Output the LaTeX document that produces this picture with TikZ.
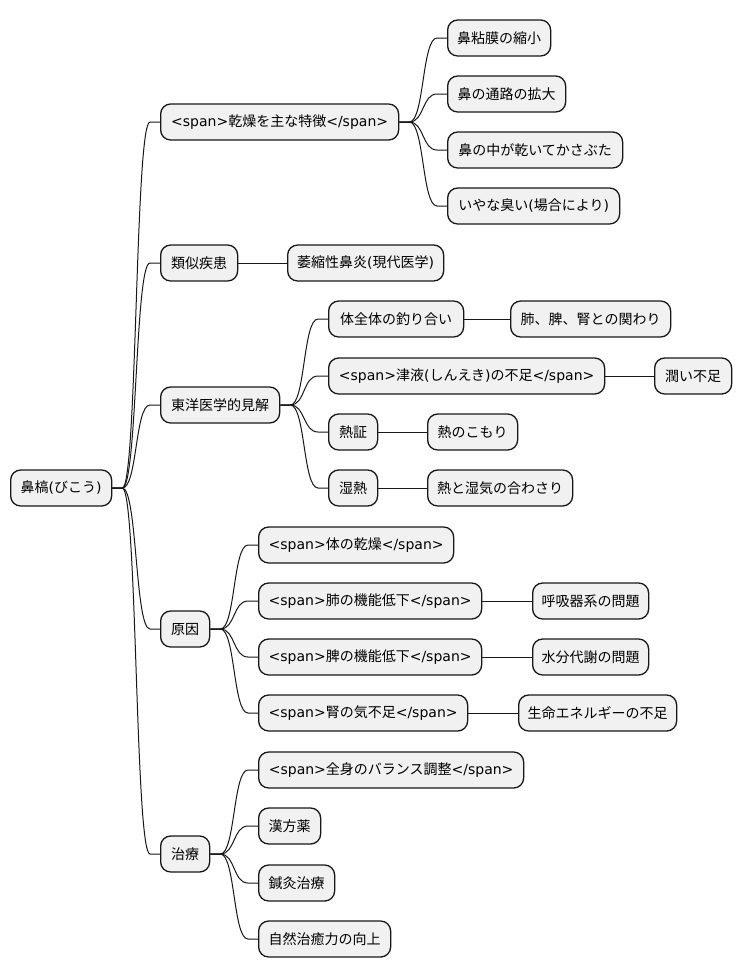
\documentclass[tikz,border=0pt]{standalone}
\usepackage{fontspec}
\setmainfont{DejaVu Sans}
\newfontfamily\jpfont{Noto Sans CJK JP}
\newcommand\J[1]{{\jpfont #1}}
\definecolor{boxfill}{HTML}{F1F1F1}
\definecolor{boxline}{HTML}{181818}
\tikzset{
  mmbox/.style={draw=boxline, fill=boxfill, line width=1.3pt, rounded corners=10pt,
    minimum height=36pt, inner sep=0pt, anchor=west, align=center,
    font=\fontsize{14pt}{16pt}\selectfont},
  conn/.style={draw=boxline, line width=1pt}
}
\newcommand\curvelink[2]{\draw[conn] (#1.east) -- ([xshift=10pt]#1.east) .. controls ([xshift=25pt]#1.east) and ([xshift=-25pt]#2.west) .. ([xshift=-10pt]#2.west) -- (#2.west);}
\newcommand\straightlink[2]{\draw[conn] (#1.east) -- (#2.west);}
\begin{document}
\begin{tikzpicture}[x=1pt,y=-1pt]
\useasboundingbox[fill=white] (0,0) rectangle (741,978);
% root
\node[mmbox, minimum width=101pt] (root) at (10,488) {\J{鼻槁}(\J{びこう})};
% level 1
\node[mmbox, minimum width=238pt] (a) at (160,122) {<span>\J{乾燥を主な特徴}</span>};
\node[mmbox, minimum width=77pt] (b) at (160,263) {\J{類似疾患}};
\node[mmbox, minimum width=119pt] (c) at (160,405) {\J{東洋医学的見解}};
\node[mmbox, minimum width=49pt] (d) at (160,629) {\J{原因}};
\node[mmbox, minimum width=49pt] (e) at (160,854) {\J{治療}};
% a children
\node[mmbox, minimum width=103pt] (a1) at (447,38) {\J{鼻粘膜の縮小}};
\node[mmbox, minimum width=118pt] (a2) at (447,94) {\J{鼻の通路の拡大}};
\node[mmbox, minimum width=175pt] (a3) at (447,150) {\J{鼻の中が乾いてかさぶた}};
\node[mmbox, minimum width=172pt] (a4) at (447,206) {\J{いやな臭い}(\J{場合により})};
% b child
\node[mmbox, minimum width=156pt] (b1) at (287,263) {\J{萎縮性鼻炎}(\J{現代医学})};
% c children
\node[mmbox, minimum width=135pt] (c1) at (328,319) {\J{体全体の釣り合い}};
\node[mmbox, minimum width=160pt] (c1a) at (510,319) {\J{肺、脾、腎との関わり}};
\node[mmbox, minimum width=276pt] (c2) at (328,376) {<span>\J{津液}(\J{しんえき})\J{の不足}</span>};
\node[mmbox, minimum width=77pt] (c2a) at (654,376) {\J{潤い不足}};
\node[mmbox, minimum width=49pt] (c3) at (328,432) {\J{熱証}};
\node[mmbox, minimum width=90pt] (c3a) at (427,432) {\J{熱のこもり}};
\node[mmbox, minimum width=49pt] (c4) at (328,488) {\J{湿熱}};
\node[mmbox, minimum width=145pt] (c4a) at (427,488) {\J{熱と湿気の合わさり}};
% d children
\node[mmbox, minimum width=195pt] (d1) at (258,545) {<span>\J{体の乾燥}</span>};
\node[mmbox, minimum width=223pt] (d2) at (258,601) {<span>\J{肺の機能低下}</span>};
\node[mmbox, minimum width=116pt] (d2a) at (532,601) {\J{呼吸器系の問題}};
\node[mmbox, minimum width=223pt] (d3) at (258,657) {<span>\J{脾の機能低下}</span>};
\node[mmbox, minimum width=116pt] (d3a) at (532,657) {\J{水分代謝の問題}};
\node[mmbox, minimum width=209pt] (d4) at (258,713) {<span>\J{腎の気不足}</span>};
\node[mmbox, minimum width=158pt] (d4a) at (518,713) {\J{生命エネルギーの不足}};
% e children
\node[mmbox, minimum width=265pt] (e1) at (258,770) {<span>\J{全身のバランス調整}</span>};
\node[mmbox, minimum width=62pt] (e2) at (258,826) {\J{漢方薬}};
\node[mmbox, minimum width=76pt] (e3) at (258,883) {\J{鍼灸治療}};
\node[mmbox, minimum width=132pt] (e4) at (258,939) {\J{自然治癒力の向上}};
% connectors
\foreach \c in {a,b,c,d,e} {\curvelink{root}{\c}}
\foreach \c in {a1,a2,a3,a4} {\curvelink{a}{\c}}
\straightlink{b}{b1}
\foreach \c in {c1,c2,c3,c4} {\curvelink{c}{\c}}
\straightlink{c1}{c1a}
\straightlink{c2}{c2a}
\straightlink{c3}{c3a}
\straightlink{c4}{c4a}
\foreach \c in {d1,d2,d3,d4} {\curvelink{d}{\c}}
\straightlink{d2}{d2a}
\straightlink{d3}{d3a}
\straightlink{d4}{d4a}
\foreach \c in {e1,e2,e3,e4} {\curvelink{e}{\c}}
\end{tikzpicture}
\end{document}
